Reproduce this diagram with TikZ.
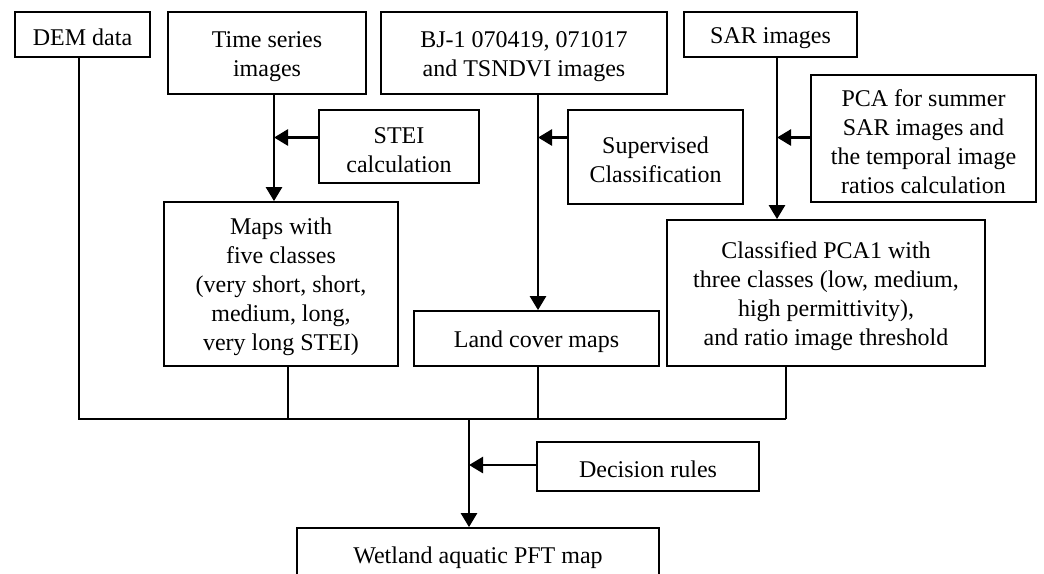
\documentclass[tikz,border=0pt]{standalone}
\usepackage{fontspec}
\setmainfont{Liberation Serif}
\usetikzlibrary{arrows.meta}
\newcommand\mytopstrut{\rule{0pt}{22.5pt}}
\begin{document}
\begin{tikzpicture}[x=1pt,y=-1pt,
  box/.style={draw,line width=1.8pt,inner sep=0pt,align=center,font=\fontsize{24}{29}\selectfont},
  arr/.style={line width=2.6pt,-{Triangle[length=14pt,width=16pt]}},
  drop/.style={line width=1.4pt},
  bus/.style={line width=2.2pt}]
\useasboundingbox (0,0) rectangle (1044,573);
\fill[white] (0,0) rectangle (1044,573);
% nodes
\node[box,minimum width=135pt,minimum height=45pt] (dem) at (82.5,34.5) {\mytopstrut DEM data};
\node[box,minimum width=198pt,minimum height=82pt] (ts) at (267,53) {\mytopstrut Time series\\images};
\node[box,minimum width=286pt,minimum height=82pt] (bj) at (524,53) {\mytopstrut BJ-1 070419, 071017\\and TSNDVI images};
\node[box,minimum width=173pt,minimum height=45pt] (sar) at (770.5,34.5) {\mytopstrut SAR images};
\node[box,minimum width=160pt,minimum height=73pt] (stei) at (399,146.5) {\mytopstrut STEI\\calculation};
\node[box,minimum width=175pt,minimum height=94pt] (sup) at (655.5,157) {\mytopstrut Supervised\\Classification};
\node[box,minimum width=225pt,minimum height=127pt] (pca) at (923.5,138.5) {\mytopstrut PCA for summer\\SAR images and\\the temporal image\\ratios calculation};
\node[box,minimum width=234pt,minimum height=164pt] (maps) at (281,284) {\mytopstrut Maps with\\five classes\\(very short, short,\\medium, long,\\very long STEI)};
\node[box,minimum width=245pt,minimum height=55pt] (land) at (536.5,338.5) {\mytopstrut Land cover maps};
\node[box,minimum width=318pt,minimum height=146pt] (cls) at (826,293) {\mytopstrut Classified PCA1 with\\three classes (low, medium,\\high permittivity),\\and ratio image threshold};
\node[box,minimum width=222pt,minimum height=49pt] (dec) at (648,466.5) {\mytopstrut Decision rules};
\node[box,minimum width=362pt,minimum height=54pt] (wet) at (478,555) {\mytopstrut Wetland aquatic PFT map};
% helper coordinates
\coordinate (xts) at (274,0);
\coordinate (xbj) at (538,0);
\coordinate (xsar) at (777,0);
\coordinate (ya) at (0,137.5);
\coordinate (bl) at (79,419);
\coordinate (bmaps) at (288,419);
\coordinate (bland) at (538,419);
\coordinate (br) at (786,419);
\coordinate (bm) at (469,419);
% vertical arrows
\draw[arr] (ts.south -| xts) -- (maps.north -| xts);
\draw[arr] (bj.south -| xbj) -- (land.north -| xbj);
\draw[arr] (sar.south -| xsar) -- (cls.north -| xsar);
% side arrows
\draw[arr] (stei.west |- ya) -- (xts |- ya);
\draw[arr] (sup.west |- ya) -- (xbj |- ya);
\draw[arr] (pca.west |- ya) -- (xsar |- ya);
% bus
\draw[bus] (dem.south -| bl) -- (bl) -- (br);
\draw[drop] (maps.south -| bmaps) -- (bmaps);
\draw[drop] (land.south -| bland) -- (bland);
\draw[drop] (cls.south -| br) -- (br);
\draw[arr] (bm) -- (wet.north -| bm);
\draw[arr] (dec.west |- 0,465) -- (bm |- 0,465);
\end{tikzpicture}
\end{document}
